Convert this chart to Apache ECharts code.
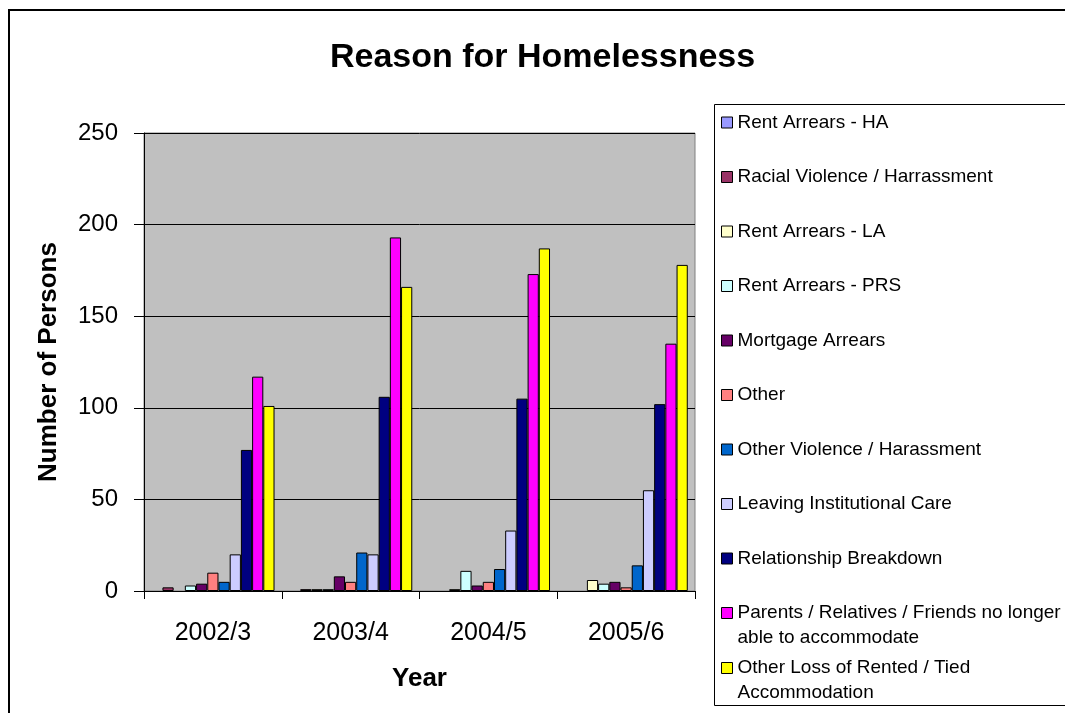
<!DOCTYPE html>
<html>
<head>
<meta charset="utf-8">
<style>
  html, body { margin: 0; padding: 0; background: #ffffff; }
  #chart { width: 1065px; height: 713px; }
</style>
<script src="https://cdn.jsdelivr.net/npm/echarts@6/dist/echarts.min.js"></script>
</head>
<body>
<div id="chart"></div>
<script>
// Years on the category axis
const years = ['2002/3', '2003/4', '2004/5', '2005/6'];

// Number of persons per reason, one value per year
const rentArrearsHA = [0, 0, 0, 0];
const racialViolence = [2, 1, 0, 0];
const rentArrearsLA = [0, 1, 1, 6];
const rentArrearsPRS = [3, 1, 11, 4];
const mortgageArrears = [4, 8, 3, 5];
const otherReason = [10, 5, 5, 2];
const otherViolence = [5, 21, 12, 14];
const leavingCare = [20, 20, 33, 55];
const relationshipBreakdown = [77, 106, 105, 102];
const parentsRelativesFriends = [117, 193, 173, 135];
const otherLossRented = [101, 166, 187, 178];

// Value axis ticks
const yTicks = [0, 50, 100, 150, 200, 250];

const reasonNames = [
  'Rent Arrears - HA',
  'Racial Violence / Harrassment',
  'Rent Arrears - LA',
  'Rent Arrears - PRS',
  'Mortgage Arrears',
  'Other',
  'Other Violence / Harassment',
  'Leaving Institutional Care',
  'Relationship Breakdown',
  'Parents / Relatives / Friends no longer able to accommodate',
  'Other Loss of Rented / Tied Accommodation'
];
const reasonValues = [
  rentArrearsHA, racialViolence, rentArrearsLA, rentArrearsPRS, mortgageArrears,
  otherReason, otherViolence, leavingCare, relationshipBreakdown,
  parentsRelativesFriends, otherLossRented
];
const reasonColors = [
  '#9999FF', '#993366', '#FFFFCC', '#CCFFFF', '#660066',
  '#FF8080', '#0066CC', '#CCCCFF', '#000080', '#FF00FF', '#FFFF00'
];

const FONT = '"Liberation Sans", Arial, sans-serif';

const series = reasonNames.map((name, i) => ({
  name: name,
  type: 'bar',
  barGap: '0%',
  barCategoryGap: '10.5%',
  itemStyle: { color: reasonColors[i], borderColor: '#000000', borderWidth: 1 },
  // zero counts draw nothing (no outline)
  data: reasonValues[i].map(v => v === 0 ? { value: 0, itemStyle: { borderWidth: 0 } } : v)
}));

const legendText = {
  color: '#000000', fontFamily: FONT, fontSize: 19, lineHeight: 25,
  width: 335, overflow: 'break'
};

function legendBlock(top, names, gap, wrapped) {
  return {
    orient: 'vertical', left: 721, top: top, padding: 0,
    itemWidth: 11, itemHeight: 11, itemGap: gap,
    icon: 'rect',
    itemStyle: { borderColor: '#000000', borderWidth: 1 },
    textStyle: legendText,
    // wrapped entries: keep the swatch level with the first text line
    formatter: wrapped ? (n => '\n' + n) : (n => n),
    data: names
  };
}

const chart = echarts.init(document.getElementById('chart'), null, { renderer: 'canvas' });
chart.setOption({
  animation: false,
  backgroundColor: '#ffffff',
  title: {
    text: 'Reason for Homelessness',
    left: 325, top: 36,
    textStyle: { fontFamily: FONT, fontSize: 34, fontWeight: 'bold', color: '#000000' }
  },
  graphic: [
    // outer chart frame
    { type: 'rect', shape: { x: 9, y: 10, width: 1100, height: 800 },
      style: { fill: 'none', stroke: '#000000', lineWidth: 2 }, silent: true, z: 100 },
    // legend frame
    { type: 'rect', shape: { x: 714.5, y: 104.5, width: 400, height: 601 },
      style: { fill: 'none', stroke: '#000000', lineWidth: 1 }, silent: true, z: 100 }
  ],
  legend: [
    legendBlock(110, reasonNames.slice(0, 9), 29.5, false),
    legendBlock(575.5, [reasonNames[9]], 0, true),
    legendBlock(630.5, [reasonNames[10]], 0, true)
  ],
  grid: {
    left: 144, top: 133, width: 551, height: 458,
    show: true, backgroundColor: '#C0C0C0', borderColor: '#808080', borderWidth: 1
  },
  xAxis: {
    type: 'category',
    data: years,
    name: 'Year',
    nameLocation: 'middle',
    nameGap: 75,
    nameTextStyle: { fontFamily: FONT, fontSize: 26, fontWeight: 'bold', color: '#000000' },
    axisLine: { lineStyle: { color: '#000000', width: 1 } },
    axisTick: { show: true, length: 8, alignWithLabel: false, lineStyle: { color: '#000000' } },
    axisLabel: { fontFamily: FONT, fontSize: 25, color: '#000000', margin: 30 },
    splitLine: { show: false }
  },
  yAxis: {
    type: 'value',
    min: yTicks[0], max: yTicks[yTicks.length - 1], interval: yTicks[1] - yTicks[0],
    name: 'Number of Persons',
    nameLocation: 'middle',
    nameGap: 82,
    nameTextStyle: { fontFamily: FONT, fontSize: 26, fontWeight: 'bold', color: '#000000' },
    axisLine: { show: true, lineStyle: { color: '#000000', width: 1 } },
    axisTick: { show: true, length: 10, lineStyle: { color: '#000000' } },
    axisLabel: { fontFamily: FONT, fontSize: 24, color: '#000000', margin: 26 },
    splitLine: { show: true, lineStyle: { color: '#000000', width: 1 } }
  },
  series: series
});
</script>
</body>
</html>
